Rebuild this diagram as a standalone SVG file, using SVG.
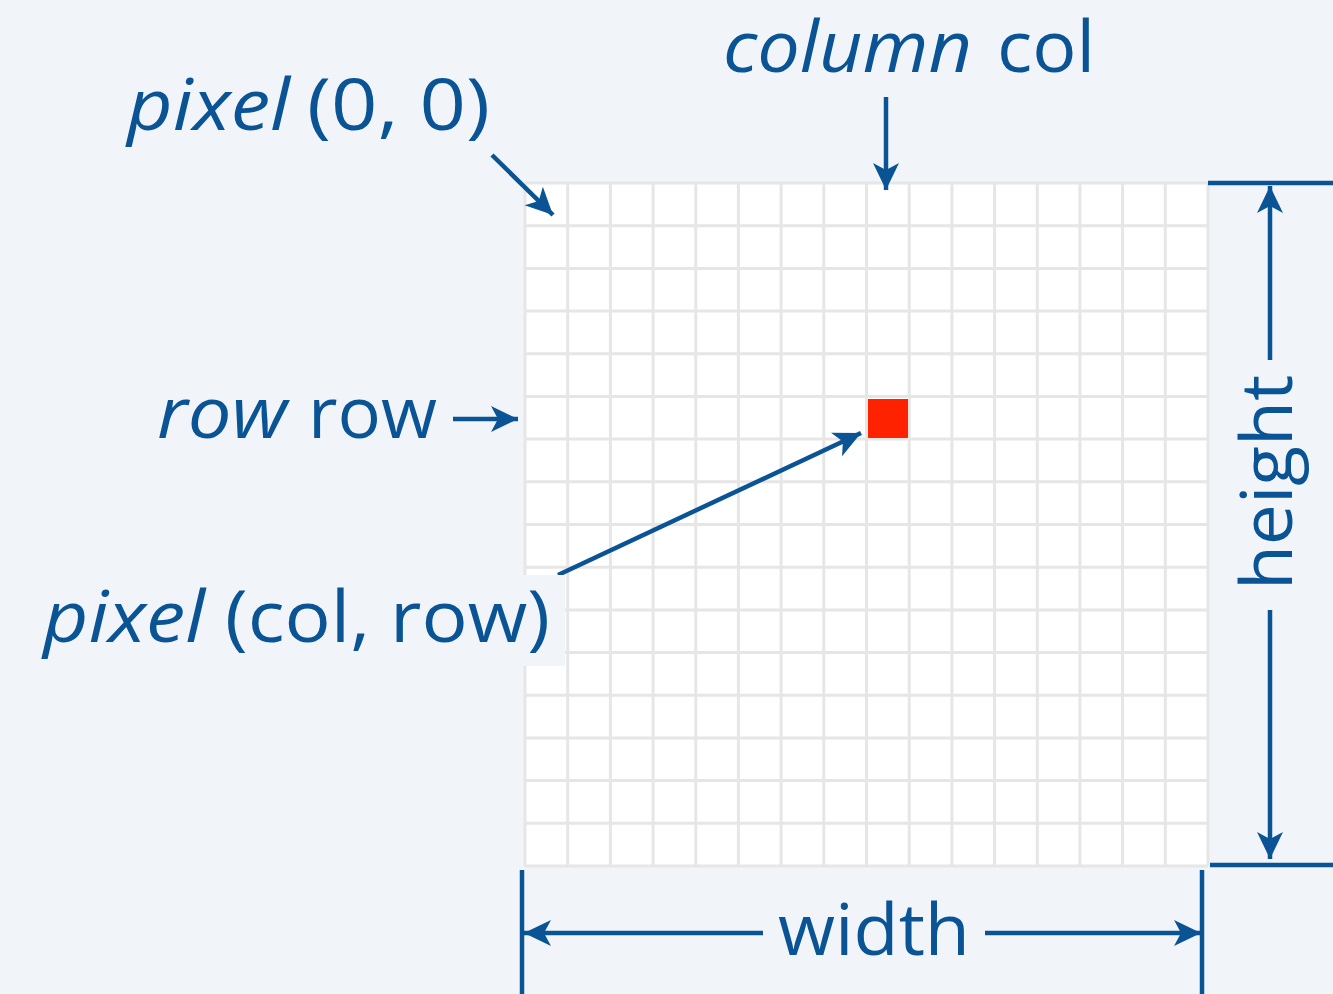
<svg xmlns="http://www.w3.org/2000/svg" width="1333" height="994" viewBox="0 0 1333 994">
  <defs>
    <style>
      .lbl { font-family: "Open Sans", "DejaVu Sans", sans-serif; fill: #0a5495; font-size: 72px; }
      .it { font-style: italic; }
      .ln { stroke: #0a5495; stroke-width: 4.5; fill: none; }
      .grid line { stroke: #e6e6e6; stroke-width: 3; }
    </style>
    <marker id="head" viewBox="-28 -14 30 28" refX="0" refY="0" markerWidth="30" markerHeight="28" markerUnits="userSpaceOnUse" orient="auto">
      <path d="M0,0 L-27,-13 L-20,0 L-27,13 Z" fill="#0a5495"/>
    </marker>
  </defs>

  <rect width="1333" height="994" fill="#f1f5f9"/>

  <!-- pixel grid -->
  <g id="grid" class="grid">
    <rect x="525" y="183" width="683" height="683" fill="#ffffff"/>
    <line x1="525" y1="183" x2="525" y2="866"/>
    <line x1="567.7" y1="183" x2="567.7" y2="866"/>
    <line x1="610.4" y1="183" x2="610.4" y2="866"/>
    <line x1="653.1" y1="183" x2="653.1" y2="866"/>
    <line x1="695.8" y1="183" x2="695.8" y2="866"/>
    <line x1="738.4" y1="183" x2="738.4" y2="866"/>
    <line x1="781.1" y1="183" x2="781.1" y2="866"/>
    <line x1="823.8" y1="183" x2="823.8" y2="866"/>
    <line x1="866.5" y1="183" x2="866.5" y2="866"/>
    <line x1="909.2" y1="183" x2="909.2" y2="866"/>
    <line x1="951.9" y1="183" x2="951.9" y2="866"/>
    <line x1="994.6" y1="183" x2="994.6" y2="866"/>
    <line x1="1037.3" y1="183" x2="1037.3" y2="866"/>
    <line x1="1079.9" y1="183" x2="1079.9" y2="866"/>
    <line x1="1122.6" y1="183" x2="1122.6" y2="866"/>
    <line x1="1165.3" y1="183" x2="1165.3" y2="866"/>
    <line x1="1208" y1="183" x2="1208" y2="866"/>
    <line x1="525" y1="183" x2="1208" y2="183"/>
    <line x1="525" y1="225.7" x2="1208" y2="225.7"/>
    <line x1="525" y1="268.4" x2="1208" y2="268.4"/>
    <line x1="525" y1="311.1" x2="1208" y2="311.1"/>
    <line x1="525" y1="353.8" x2="1208" y2="353.8"/>
    <line x1="525" y1="396.4" x2="1208" y2="396.4"/>
    <line x1="525" y1="439.1" x2="1208" y2="439.1"/>
    <line x1="525" y1="481.8" x2="1208" y2="481.8"/>
    <line x1="525" y1="524.5" x2="1208" y2="524.5"/>
    <line x1="525" y1="567.2" x2="1208" y2="567.2"/>
    <line x1="525" y1="609.9" x2="1208" y2="609.9"/>
    <line x1="525" y1="652.6" x2="1208" y2="652.6"/>
    <line x1="525" y1="695.3" x2="1208" y2="695.3"/>
    <line x1="525" y1="737.9" x2="1208" y2="737.9"/>
    <line x1="525" y1="780.6" x2="1208" y2="780.6"/>
    <line x1="525" y1="823.3" x2="1208" y2="823.3"/>
    <line x1="525" y1="866" x2="1208" y2="866"/>
  </g>

  <!-- highlighted pixel -->
  <g id="pixel">
    <rect x="868" y="399" width="40" height="39" fill="#ff2200"/>
  </g>

  <!-- connectors -->
  <g id="connectors">
    <line class="ln" x1="492" y1="155" x2="553" y2="215" marker-end="url(#head)"/>
    <line class="ln" x1="886" y1="97" x2="886" y2="190" marker-end="url(#head)"/>
    <line class="ln" x1="453" y1="419" x2="518" y2="419" marker-end="url(#head)"/>
    <line class="ln" x1="558" y1="575" x2="861" y2="433" marker-end="url(#head)"/>
    <!-- height dimension -->
    <line class="ln" x1="1208" y1="183" x2="1333" y2="183"/>
    <line class="ln" x1="1210" y1="865" x2="1333" y2="865"/>
    <line class="ln" x1="1270" y1="360" x2="1270" y2="186" marker-end="url(#head)"/>
    <line class="ln" x1="1270" y1="610" x2="1270" y2="859" marker-end="url(#head)"/>
    <!-- width dimension -->
    <line class="ln" x1="522" y1="870" x2="522" y2="994"/>
    <line class="ln" x1="1202" y1="870" x2="1202" y2="994"/>
    <line class="ln" x1="763" y1="933" x2="524" y2="933" marker-end="url(#head)"/>
    <line class="ln" x1="985" y1="933" x2="1201" y2="933" marker-end="url(#head)"/>
  </g>

  <!-- labels -->
  <g id="label-origin">
    <text class="lbl it" x="127" y="130" textLength="163" lengthAdjust="spacingAndGlyphs">pixel</text>
    <text class="lbl" x="307" y="130" textLength="183" lengthAdjust="spacingAndGlyphs">(0, 0)</text>
  </g>
  <g id="label-column">
    <text class="lbl it" x="723" y="72" textLength="249" lengthAdjust="spacingAndGlyphs">column</text>
    <text class="lbl" x="997" y="72" textLength="98" lengthAdjust="spacingAndGlyphs">col</text>
  </g>
  <g id="label-row">
    <text class="lbl it" x="157" y="438" textLength="130" lengthAdjust="spacingAndGlyphs">row</text>
    <text class="lbl" x="308" y="438" textLength="129" lengthAdjust="spacingAndGlyphs">row</text>
  </g>
  <g id="label-pixel">
    <rect x="30" y="575" width="535" height="91" fill="#f1f5f9"/>
    <text class="lbl it" x="43" y="642" textLength="162" lengthAdjust="spacingAndGlyphs">pixel</text>
    <text class="lbl" x="225" y="642" textLength="325" lengthAdjust="spacingAndGlyphs">(col, row)</text>
  </g>
  <g id="label-width">
    <text class="lbl" x="778" y="955" textLength="192" lengthAdjust="spacingAndGlyphs">width</text>
  </g>
  <g id="label-height">
    <text class="lbl" x="0" y="0" textLength="215" lengthAdjust="spacingAndGlyphs" transform="translate(1292 590) rotate(-90)">height</text>
  </g>
</svg>
